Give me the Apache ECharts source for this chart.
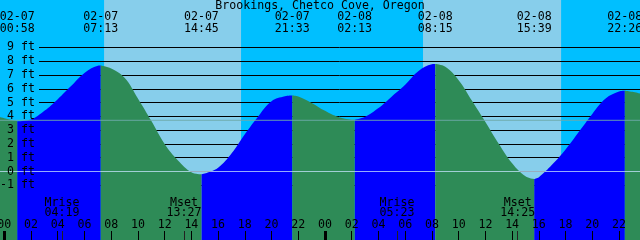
<!DOCTYPE html>
<html><head><meta charset="utf-8">
<script src="https://cdn.jsdelivr.net/npm/echarts@6/dist/echarts.min.js"></script>
<style>html,body{margin:0;padding:0;background:#00BFFF}#c{width:640px;height:240px}</style>
</head><body><div id="c"></div>
<script>
// ---- data ----
const chartTitle = 'Brookings, Chetco Cove, Oregon';
const eventDates = ['02-07','02-07','02-07','02-07','02-08','02-08','02-08','02-08'];
const eventTimes = ['00:58','07:13','14:45','21:33','02:13','08:15','15:39','22:26'];
const eventKinds = ['low','high','low','high','low','high','low','high'];
const eventFeet  = [3.65, 7.7, -0.2, 5.52, 3.75, 7.8, -0.55, 5.86];
// hours after 02-07 00:00 and heights
const tideHours = [-0.32, 0, 2, 3, 4, 5, 6, 7, 8, 9, 10, 11, 12, 13, 14, 15, 16, 17, 18, 19, 20, 21, 22, 23, 24,
  25, 26, 27, 28, 29, 30, 31, 32, 33, 34, 35, 36, 37, 38, 39, 40, 41, 42, 43, 44, 45, 46, 47, 47.57];
const tideFeet = [3.95, 3.86, 3.78, 4.4, 5.25, 6.2, 7.15, 7.68, 7.48, 6.8, 5.3, 3.68, 2.0, 0.8, -0.05, -0.15, 0.28, 1.3, 2.7, 4.0, 5.1, 5.46, 5.45, 4.98, 4.4,
  3.95, 3.76, 3.97, 4.6, 5.45, 6.3, 7.3, 7.78, 7.6, 6.63, 5.13, 3.6, 2.02, 0.6, -0.35, -0.42, 0.5, 1.6, 2.88, 4.18, 5.29, 5.8, 5.78, 5.65];
const sunDates = ['02-07','02-08'];
const sunriseTimes = ['07:28','07:20'];
const sunsetTimes  = ['17:43','17:40'];
const moonDates = ['02-07','02-07','02-08','02-08'];
const moonKinds = ['Mrise','Mset','Mrise','Mset'];
const moonTimes = ['04:19','13:27','05:23','14:25'];
const hourTicks = [0,2,4,6,8,10,12,14,16,18,20,22,24,26,28,30,32,34,36,38,40,42,44,46];
const midnightTicks = [0,24];
const meanLevel = 3.715;
const datumLevel = 0;

// ---- helpers ----
const X_MIN = -0.32, X_MAX = 47.57;
const Y_MIN = -4.971, Y_MAX = 12.446;
const FONT = "'DejaVu Sans Mono', monospace";
function toHour(date, time){
  const day = parseInt(date.slice(3),10) - 7;
  const [h,m] = time.split(':').map(Number);
  return day*24 + h + m/60;
}
const evH = eventTimes.map((t,i)=>toHour(eventDates[i], t));
const moonH = moonTimes.map((t,i)=>toHour(moonDates[i], t));
const dayBands = sunriseTimes.map((t,i)=>[toHour(sunDates[i], t), toHour(sunDates[i], sunsetTimes[i])]);

let pts = tideHours.map((h,i)=>[h, tideFeet[i]]);
evH.forEach((h,i)=>pts.push([h, eventFeet[i]]));
pts.sort((a,b)=>a[0]-b[0]);

function dirs(t){
  if (evH.some(h=>Math.abs(h-t)<1e-6)) return ['rise','fall'];
  const k = evH.filter(h=>h<t).length;
  if (k===0) return [eventKinds[0]==='low' ? 'fall' : 'rise'];
  return [eventKinds[k-1]==='low' ? 'rise' : 'fall'];
}
const riseData = pts.map(p=>dirs(p[0]).includes('rise') ? p : [p[0], '-']);
const fallData = pts.map(p=>dirs(p[0]).includes('fall') ? p : [p[0], '-']);
function near(arr, v){ return arr.findIndex(h=>Math.abs(h-v)<1e-4); }

const txt = {color:'#000', fontFamily:FONT, fontSize:11.6};
const noLine = {show:false, onZero:false};

const option = {
  backgroundColor:'#00BFFF',
  animation:false,
  title:{text:chartTitle, left:'center', top:0, padding:0,
    textStyle:{color:'#000', fontFamily:FONT, fontSize:11.6, fontWeight:'normal', lineHeight:12}},
  grid:[
    {left:0, right:0, top:0, bottom:0, containLabel:false, outerBoundsMode:'none'},
    {left:39, right:0, top:47.48, height:137.8, containLabel:false, outerBoundsMode:'none'}
  ],
  xAxis:[
    {gridIndex:0, type:'value', min:X_MIN, max:X_MAX, position:'bottom', z:10,
     axisLine:noLine, splitLine:{show:false},
     axisTick:{show:true, inside:true, length:9, customValues:hourTicks, lineStyle:{color:'#000', width:1}},
     axisLabel:{show:true, inside:true, margin:9, customValues:hourTicks, lineHeight:12, ...txt,
       formatter:v=>String(((v%24)+24)%24).padStart(2,'0')}},
    {gridIndex:0, type:'value', min:X_MIN, max:X_MAX, position:'bottom', z:10,
     axisLine:noLine, splitLine:{show:false}, axisLabel:{show:false},
     axisTick:{show:true, inside:true, length:9, customValues:midnightTicks, lineStyle:{color:'#000', width:3}}},
    {gridIndex:0, type:'value', min:X_MIN, max:X_MAX, position:'bottom', z:10,
     axisLine:noLine, splitLine:{show:false},
     axisTick:{show:true, inside:true, length:9, customValues:moonH, lineStyle:{color:'#222', width:1}},
     axisLabel:{show:true, inside:true, margin:22, customValues:moonH, lineHeight:10.3, ...txt,
       formatter:v=>{const i=near(moonH,v); return i<0?'':moonKinds[i]+'\n'+moonTimes[i];}}},
    {gridIndex:0, type:'value', min:X_MIN, max:X_MAX, position:'top', z:10,
     axisLine:noLine, splitLine:{show:false}, axisTick:{show:false},
     axisLabel:{show:true, inside:true, margin:11, customValues:evH, lineHeight:12, ...txt,
       formatter:v=>{const i=near(evH,v); return i<0?'':eventDates[i]+'\n'+eventTimes[i];}}},
    {gridIndex:1, type:'value', min:0, max:1, show:false, axisLine:noLine}
  ],
  yAxis:[
    {gridIndex:0, type:'value', min:Y_MIN, max:Y_MAX, show:false, position:'left', axisLine:noLine},
    {gridIndex:1, type:'value', min:-1, max:9, interval:1, z:2, position:'left',
     axisLine:noLine, axisTick:{show:false}, axisLabel:{show:false},
     splitLine:{show:true, lineStyle:{color:'#000', width:1}}},
    {gridIndex:1, type:'value', min:-1, max:9, interval:1, z:10, position:'left',
     axisLine:noLine, axisTick:{show:false}, splitLine:{show:false},
     axisLabel:{show:true, margin:4, ...txt, formatter:v=>v+' ft'}}
  ],
  series:[
    {type:'custom', xAxisIndex:0, yAxisIndex:0, z:1, silent:true, data:dayBands,
     encode:{x:[0,1]},
     renderItem:(params, api)=>{
       const s = api.coord([api.value(0), Y_MAX]);
       const e = api.coord([api.value(1), Y_MIN]);
       return {type:'rect', shape:{x:s[0], y:s[1], width:e[0]-s[0], height:e[1]-s[1]}, style:{fill:'#87CEEB'}};
     }},
    {type:'line', xAxisIndex:0, yAxisIndex:0, z:3, data:riseData, smooth:0.4, symbol:'none', silent:true,
     lineStyle:{width:0}, areaStyle:{color:'#0000FF', opacity:1, origin:'start'}},
    {type:'line', xAxisIndex:0, yAxisIndex:0, z:3, data:fallData, smooth:0.4, symbol:'none', silent:true,
     lineStyle:{width:0}, areaStyle:{color:'#2E8B57', opacity:1, origin:'start'}},
    {type:'line', xAxisIndex:0, yAxisIndex:0, z:4, symbol:'none', silent:true,
     data:[[X_MIN, datumLevel],[X_MAX, datumLevel]], lineStyle:{color:'rgba(200,230,255,0.75)', width:1}},
    {type:'line', xAxisIndex:0, yAxisIndex:0, z:4, symbol:'none', silent:true,
     data:[[X_MIN, meanLevel],[X_MAX, meanLevel]], lineStyle:{color:'rgba(110,170,170,0.9)', width:1}}
  ]
};
const chart = echarts.init(document.getElementById('c'), null, {renderer:'canvas'});
chart.setOption(option);
</script></body></html>
